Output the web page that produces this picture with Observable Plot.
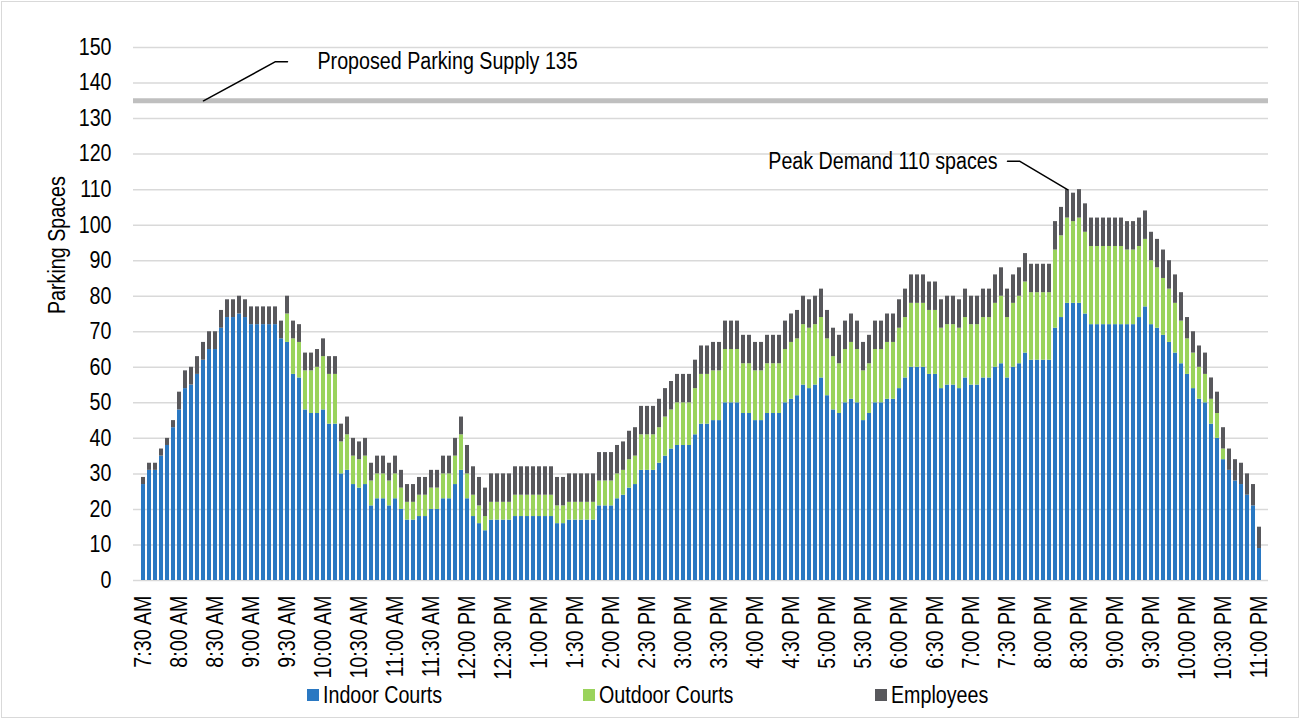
<!DOCTYPE html>
<html><head><meta charset="utf-8">
<script src="https://cdn.jsdelivr.net/npm/d3@7"></script>
<script src="https://cdn.jsdelivr.net/npm/@observablehq/plot@0.6"></script>
<style>
body{margin:0;background:#fff;}
#wrap{position:relative;width:1300px;height:719px;overflow:hidden;background:#fff;font-family:"Liberation Sans",Arial,sans-serif;}
#frame{position:absolute;left:1px;top:1px;width:1296px;height:715px;border:1px solid #d9d9d9;pointer-events:none;}
#legend{position:absolute;left:0;top:682px;width:1300px;height:30px;}
.item{position:absolute;top:0;height:26px;display:flex;align-items:center;font-size:23px;color:#000;white-space:nowrap;}
.sw{width:12px;height:12px;margin-right:4px;flex:none;}
.lab{display:inline-block;transform:scaleX(0.855);transform-origin:left center;}
</style></head>
<body><div id="wrap"><div id="chart"></div><div id="legend"></div><div id="frame"></div></div>
<script>
const FONT = '"Liberation Sans",Arial,sans-serif';
const NARROW = 0.855;
const seriesNames = ["Indoor Courts", "Outdoor Courts", "Employees"];
const seriesColors = ["#2a78c2", "#9ad35c", "#58585c"];

const indoor = [
 27,31,31,35,38,43,
 48,54,55,58,62,65,65,
 71,74,74,75,74,
 72,72,72,72,72,68,
 67,58,57,48,47,47,48,44,44,30,31,
 27,26,27,21,23,23,21,23,20,17,17,
 18,18,20,20,23,23,27,31,
 23,18,16,14,17,17,17,17,
 18,18,18,18,18,18,18,
 16,16,
 17,17,17,17,17,
 21,21,21,
 23,24,26,27,
 31,31,31,
 33,35,37,38,38,38,
 41,44,44,45,45,
 50,50,50,
 47,47,45,45,47,47,47,
 50,51,52,55,54,55,57,
 52,48,47,50,51,50,45,47,
 50,50,51,51,54,57,
 60,60,60,58,58,
 54,55,55,54,57,55,55,57,57,
 60,61,57,60,61,64,
 62,62,62,62,
 71,74,78,78,78,75,
 72,72,72,72,72,72,72,72,
 74,77,72,71,69,67,64,61,
 58,54,51,50,44,40,34,
 31,28,27,24,21,9
];
const outdoor = [
 0,0,0,0,0,0,
 0,0,0,0,0,0,0,
 0,0,0,0,0,
 0,0,0,0,0,0,
 8,10,10,11,12,13,15,14,14,9,10,
 8,8,8,7,7,7,7,7,6,5,5,
 6,6,6,6,7,7,8,10,
 7,6,5,4,5,5,5,5,
 6,6,6,6,6,6,6,
 5,5,
 5,5,5,5,5,
 7,7,7,
 7,7,8,8,
 10,10,10,
 10,11,11,12,12,12,
 13,14,14,14,14,
 15,15,15,
 14,14,14,14,14,14,14,
 15,16,16,17,17,17,17,
 16,15,14,15,16,15,14,14,
 15,15,16,16,17,17,
 18,18,18,18,18,
 17,17,17,17,17,17,17,17,17,
 18,19,17,18,19,20,
 19,19,19,19,
 22,23,24,23,24,23,
 22,22,22,22,22,22,21,21,
 20,19,18,17,16,15,14,12,
 10,10,9,8,7,7,3,
 0,0,0,0,0,0
];
const employees = [
 2,2,2,2,2,2,
 5,5,5,5,5,5,5,
 5,5,5,5,5,
 5,5,5,5,5,5,
 5,5,5,5,5,5,5,5,5,5,5,
 5,5,5,5,5,5,5,5,5,5,5,
 5,5,5,5,5,5,5,5,
 8,8,8,8,8,8,8,8,
 8,8,8,8,8,8,8,
 8,8,
 8,8,8,8,8,
 8,8,8,
 8,8,8,8,
 8,8,8,
 8,8,8,8,8,8,
 8,8,8,8,8,
 8,8,8,
 8,8,8,8,8,8,8,
 8,8,8,8,8,8,8,
 8,8,8,8,8,8,8,8,
 8,8,8,8,8,8,
 8,8,8,8,8,
 8,8,8,8,8,8,8,8,8,
 8,8,8,8,8,8,
 8,8,8,8,
 8,8,8,8,8,8,
 8,8,8,8,8,8,8,8,
 8,8,8,8,8,8,8,8,
 6,6,6,6,6,6,6,
 6,6,6,6,6,6
];

const tickLabels = ["7:30 AM","8:00 AM","8:30 AM","9:00 AM","9:30 AM","10:00 AM","10:30 AM","11:00 AM","11:30 AM","12:00 PM","12:30 PM","1:00 PM","1:30 PM","2:00 PM","2:30 PM","3:00 PM","3:30 PM","4:00 PM","4:30 PM","5:00 PM","5:30 PM","6:00 PM","6:30 PM","7:00 PM","7:30 PM","8:00 PM","8:30 PM","9:00 PM","9:30 PM","10:00 PM","10:30 PM","11:00 PM"];

// 5-minute time categories, 7:30 AM to 11:00 PM
const times = indoor.map((_, i) => {
  const m = 7 * 60 + 30 + 5 * i;
  const h24 = Math.floor(m / 60), mm = m % 60;
  const h12 = ((h24 + 11) % 12) + 1;
  return `${h12}:${String(mm).padStart(2, "0")} ${h24 < 12 ? "AM" : "PM"}`;
});

const supply = 135;
const annotations = [
  {x: times[30], y: 146, text: "Proposed Parking Supply 135", anchor: "start"},
  {x: times[142], y: 117.8, text: "Peak Demand 110 spaces", anchor: "end"}
];
const supplyLeader = [{x: times[10], y: 135}, {x: times[22], y: 146}, {x: times[24], y: 146}];
const peakLeader = [{x: times[144], y: 118}, {x: times[146], y: 118}, {x: times[154], y: 110}];

const rows = [];
times.forEach((t, i) => {
  rows.push({time: t, series: seriesNames[0], value: indoor[i]});
  rows.push({time: t, series: seriesNames[1], value: outdoor[i]});
  rows.push({time: t, series: seriesNames[2], value: employees[i]});
});

const chart = Plot.plot({
  width: 1300, height: 682,
  marginTop: 47, marginBottom: 102, marginLeft: 133, marginRight: 32,
  style: {fontFamily: FONT, fontSize: "23px", color: "#000", background: "#fff", overflow: "visible"},
  x: {type: "band", domain: times, paddingInner: 0.34, paddingOuter: 0, align: 0.5},
  y: {domain: [0, 150]},
  color: {domain: seriesNames, range: seriesColors},
  marks: [
    Plot.gridY(d3.range(10, 151, 10), {stroke: "#d9d9d9", strokeOpacity: 1, strokeWidth: 1.5}),
    Plot.ruleY([0], {stroke: "#d9d9d9", strokeWidth: 1.5}),
    Plot.barY(rows, {x: "time", y: "value", fill: "series"}),
    Plot.ruleY([supply], {stroke: "#bfbfbf", strokeWidth: 5}),
    Plot.line(supplyLeader, {x: "x", y: "y", stroke: "#000", strokeWidth: 1.5}),
    Plot.line(peakLeader, {x: "x", y: "y", stroke: "#000", strokeWidth: 1.5}),
    Plot.text(annotations.filter(d => d.anchor === "start"), {x: "x", y: "y", text: "text", textAnchor: "start", dx: -6, fill: "#000"}),
    Plot.text(annotations.filter(d => d.anchor === "end"), {x: "x", y: "y", text: "text", textAnchor: "end", dx: 2, fill: "#000"}),
    Plot.axisY({ticks: d3.range(0, 151, 10), tickSize: 0, tickPadding: 22, label: null}),
    Plot.axisX({ticks: tickLabels, tickSize: 0, tickRotate: -90, tickPadding: 15, label: null}),
    Plot.text(["Parking Spaces"], {frameAnchor: "left", dx: -76, rotate: -90, text: d => d, fill: "#000"})
  ]
});
document.getElementById("chart").appendChild(chart);

// condense glyphs to mimic a narrow typeface
chart.querySelectorAll("text").forEach(el => {
  const len = el.getComputedTextLength();
  if (len > 0) {
    el.setAttribute("textLength", (len * NARROW).toFixed(2));
    el.setAttribute("lengthAdjust", "spacingAndGlyphs");
  }
});

const legendPos = [307, 583, 875];
const legend = document.getElementById("legend");
seriesNames.forEach((name, i) => {
  const it = document.createElement("div");
  it.className = "item";
  it.style.left = legendPos[i] + "px";
  it.innerHTML = `<span class="sw" style="background:${seriesColors[i]}"></span><span class="lab">${name}</span>`;
  legend.appendChild(it);
});
</script></body></html>
